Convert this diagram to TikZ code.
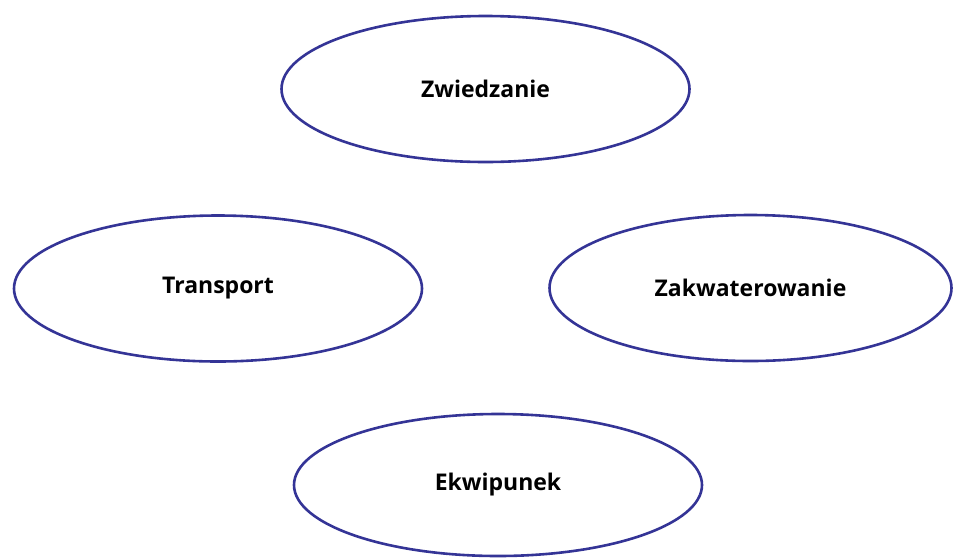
\documentclass[tikz,border=0pt]{standalone}
\usepackage{fontspec}
\setmainfont{Open Sans}
\usetikzlibrary{shapes.geometric}
\definecolor{ringblue}{RGB}{52,52,150}
\begin{document}
\begin{tikzpicture}[x=1pt,y=-1pt,
  oval/.style={ellipse, draw=ringblue, line width=2.6pt, fill=white, inner sep=0pt,
    minimum width=408pt, minimum height=146pt, font=\bfseries\fontsize{23}{26}\selectfont}]
\useasboundingbox (0,0) rectangle (953,558);
\node[oval] (zw) at (485.5,89) {Zwiedzanie};
\node[oval] (tr) at (218,288.5) {Transport};
\node[oval, minimum width=402pt] (za) at (750.5,288) {Zakwaterowanie};
\node[oval, minimum height=142pt] (ek) at (498,485) {Ekwipunek};
\end{tikzpicture}
\end{document}
